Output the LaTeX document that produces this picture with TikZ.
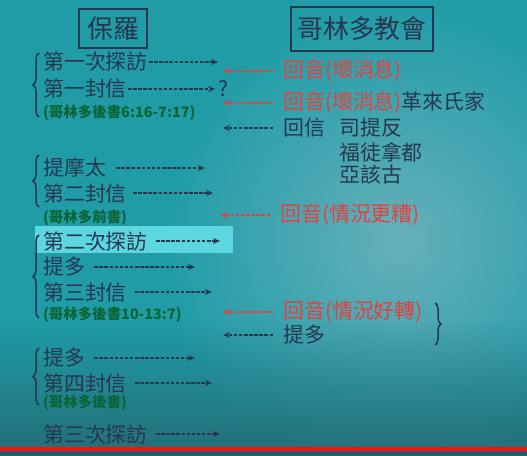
\documentclass[tikz,border=0pt]{standalone}
\usepackage{fontspec}
\setmainfont{Noto Sans CJK TC}
\usepackage{xcolor}
\usetikzlibrary{positioning, arrows.meta, decorations.pathreplacing, fadings}

\definecolor{bgteal}{HTML}{1F9CA6}
\definecolor{bglight}{HTML}{66B0BB}
\definecolor{bgdark}{HTML}{246E78}
\definecolor{ink}{HTML}{27374F}
\definecolor{echo}{HTML}{E5403E}
\definecolor{refgreen}{HTML}{0B6436}
\definecolor{hilite}{HTML}{5CD6DF}
\definecolor{barred}{HTML}{FF1010}

\begin{document}
\begin{tikzpicture}[
    x=1bp, y=-1bp,
    every node/.style = {inner sep=0pt, text=ink},
    title/.style = {draw=ink, line width=1.8bp, font=\fontsize{26}{26}\selectfont},
    item/.style = {anchor=west, font=\fontsize{21}{21}\selectfont},
    reply/.style = {item, text=echo},
    ref/.style = {anchor=west, text=refgreen, font=\fontsize{14.5}{14.5}\selectfont\bfseries},
    goarrow/.style = {draw=ink, line width=1.4bp, dash pattern=on 3.5bp off 1.6bp, -{Stealth[length=7bp, width=6bp]}},
    redarrow/.style = {goarrow, draw=echo},
    bracket/.style = {draw=ink, line width=1.5bp, decorate, decoration={brace, amplitude=6bp}}
]
    % background
    \useasboundingbox (0,0) rectangle (527,456);
    \fill[bgteal] (0,0) rectangle (527,456);
    \shade[inner color=bglight, outer color=bgteal] (400,240) circle (240);
    \fill[bgdark, path fading=north] (0,320) rectangle (527,456);
    \fill[bgdark!85!black] (0,450) rectangle (527,456);
    \fill[hilite] (35,226) rectangle (233,253);
    \fill[barred] (0,446.5) rectangle (527,450.5);

    % headings
    \node[title, minimum width=68bp, minimum height=39bp] (paul) at (113,28.5) {保羅};
    \node[title, minimum width=142bp, minimum height=44bp] (church) at (362,29) {哥林多教會};

    % Paul side
    \foreach \n/\y/\txt/\gap/\endx in {v1/62/第一次探訪/1/218, tim/168/提摩太/10/205, l2/193/第二封信/6/213,
        v2/241/第二次探訪/8/220, t1/267/提多/9/195, l3/292/第三封信/8/212,
        t2/358/提多/9/195, l4/383/第四封信/8/212, v3/434/第三次探訪/8/220}{
        \node[item] (\n) at (43,\y) {\txt};
        \coordinate (\n-end) at (\endx,\y);
        \draw[goarrow] ([xshift=\gap bp]\n.east) -- (\n-end);
    }
    \node[item] (l1) at (43,89) {第一封信};
    \node[item, right=5bp of l1.east, xshift=86bp, anchor=west] (q) {?};
    \draw[goarrow] ([xshift=1bp]l1.east) -- ([xshift=-3bp]q.west);

    \node[ref] (r1) at (43,113) {(哥林多後書6:16-7:17)};
    \node[ref] (r2) at (43,218) {(哥林多前書)};
    \node[ref] (r3) at (43,315) {(哥林多後書10-13:7)};
    \node[ref] (r4) at (43,403) {(哥林多後書)};

    \draw[bracket] (39,117) -- (39,53);
    \draw[bracket] (39,207) -- (39,155);
    \draw[bracket] (39,318) -- (39,235);
    \draw[bracket] (39,405) -- (39,348);

    % church side
    \node[reply] (e1) at (283,71) {回音(壞消息)};
    \node[reply] (e2) at (283,103) {回音(壞消息){\color{ink}革來氏家}};
    \node[item] (e3) at (283,128) {回信};
    \node[item] (s1) at (339,128) {司提反};
    \node[item] (s2) at (339,152) {福徒拿都};
    \node[item] (s3) at (339,175) {亞該古};
    \node[reply] (e4) at (280,215) {回音(情況更糟)};
    \node[reply] (e5) at (283,312) {回音(情況好轉)};
    \node[item] (e6) at (283,335) {提多};

    \foreach \n/\y/\endx/\sty in {e1/71/223/redarrow, e2/103/223/redarrow, e3/128/223/goarrow,
        e4/215/220/redarrow, e5/312/223/redarrow, e6/335/223/goarrow}{
        \coordinate (\n-tip) at (\endx,\y);
        \draw[\sty] ([xshift=-10bp]\n.west) -- (\n-tip);
    }

    \draw[bracket] (435,303) -- (435,345);
\end{tikzpicture}
\end{document}
